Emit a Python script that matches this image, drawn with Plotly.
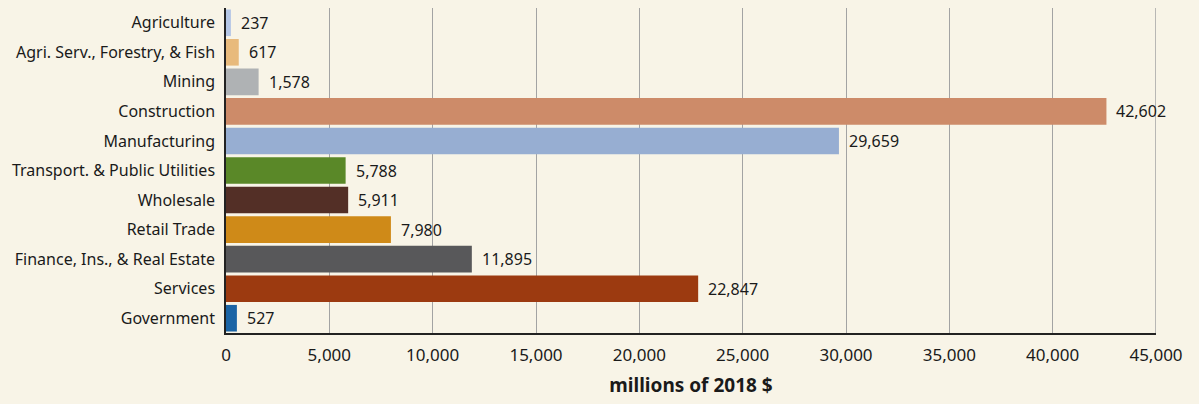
import plotly.graph_objects as go

categories = ["Agriculture", "Agri. Serv., Forestry, & Fish", "Mining", "Construction",
              "Manufacturing", "Transport. & Public Utilities", "Wholesale", "Retail Trade",
              "Finance, Ins., & Real Estate", "Services", "Government"]
values = [237, 617, 1578, 42602, 29659, 5788, 5911, 7980, 11895, 22847, 527]
colors = ["#B4C6E6", "#E8BA7C", "#AFB2B4", "#CD8B69", "#97AED2", "#5A8828",
          "#532F26", "#CF8A18", "#58585A", "#9C3A10", "#1B64A5"]
tick_vals = list(range(0, 45001, 5000))
tick_text = [f"{v:,}" for v in tick_vals]

BG = "#F8F4E7"
FONT = "Noto Sans"
GRID = "#a3a3a3"

fig = go.Figure()
fig.add_trace(go.Bar(
    x=values, y=categories, orientation="h",
    marker=dict(color=colors, line=dict(width=0)),
    hoverinfo="skip",
))
for c, v in zip(categories, values):
    fig.add_annotation(x=v, y=c, text=f"{v:,}", showarrow=False,
                       xanchor="left", xshift=8,
                       font=dict(family=FONT, size=16, color="#1a1a1a"))

# gridline at the right edge of the axis range
fig.add_shape(type="line", xref="x", yref="paper",
              x0=tick_vals[-1], x1=tick_vals[-1], y0=0, y1=1,
              line=dict(color=GRID, width=1.5), layer="below")

fig.update_layout(
    width=1199, height=404,
    paper_bgcolor=BG, plot_bgcolor=BG,
    margin=dict(l=226, r=43, t=8, b=71),
    bargap=0.1,
    showlegend=False,
    font=dict(family=FONT, size=16, color="#1a1a1a"),
)
fig.update_xaxes(
    range=[0, 45000], tickvals=tick_vals, ticktext=tick_text,
    showgrid=True, gridcolor=GRID, gridwidth=1.2,
    showline=True, linecolor="#222222", linewidth=1.5,
    zeroline=False, ticks="", tickfont=dict(size=17), ticklabelstandoff=6,
    title=dict(text="<b>millions of 2018 $</b>", font=dict(size=19), standoff=14),
)
fig.update_yaxes(
    categoryorder="array", categoryarray=categories[::-1],
    showline=True, linecolor="#222222", linewidth=1.5,
    showgrid=False, ticks="", ticklabelstandoff=6, tickfont=dict(size=16),
)
fig.write_html(
    "out.html",
    config={"displayModeBar": False},
    post_script="document.body.style.margin='0';document.body.style.background='%s';" % BG,
)
